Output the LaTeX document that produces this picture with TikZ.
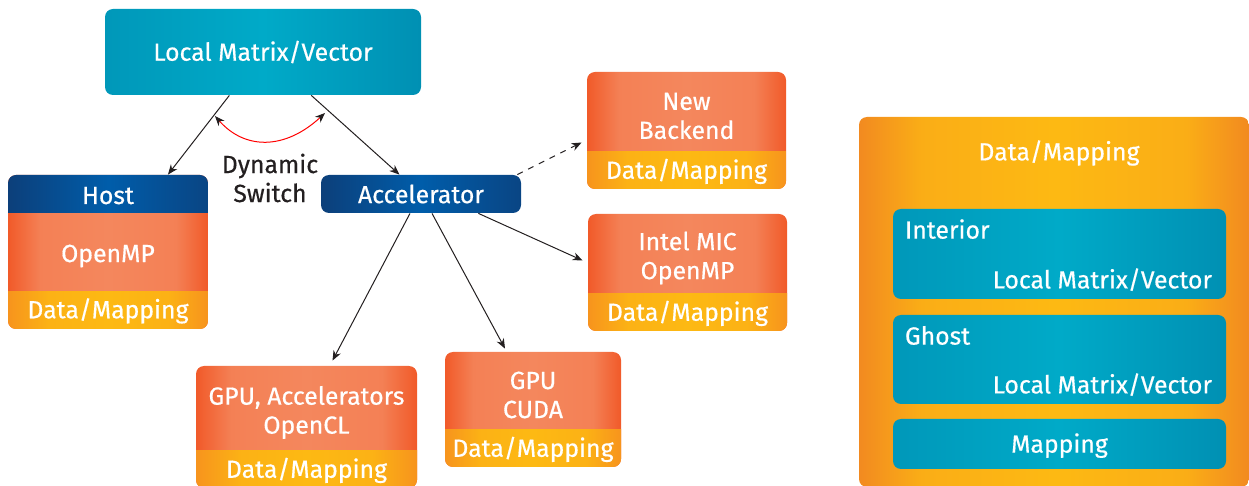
\documentclass[tikz,border=0pt]{standalone}
\usepackage{fontspec}
\setmainfont{Fira Sans}[UprightFeatures={FakeBold=0.5}]
\usepackage{xcolor}
\usetikzlibrary{arrows.meta,positioning}

\definecolor{tealmid}{HTML}{00AAC8}
\definecolor{tealedge}{HTML}{0090B3}
\definecolor{bluemid}{HTML}{005DAA}
\definecolor{blueedge}{HTML}{0C3F7A}
\definecolor{orangemid}{HTML}{F4875D}
\definecolor{orangeedge}{HTML}{F15A29}
\definecolor{yellowmid}{HTML}{FDB913}
\definecolor{yellowedge}{HTML}{F7941D}
\definecolor{bigedge}{HTML}{F28A20}
\definecolor{textdark}{HTML}{231F20}

\pgfdeclarehorizontalshading{orangeshade}{100bp}{color(0bp)=(orangeedge); color(25bp)=(orangeedge);
  color(33bp)=(orangemid!85!orangeedge); color(50bp)=(orangemid); color(67bp)=(orangemid!85!orangeedge);
  color(75bp)=(orangeedge); color(100bp)=(orangeedge)}
\pgfdeclarehorizontalshading{yellowshade}{100bp}{color(0bp)=(yellowedge); color(25bp)=(yellowedge);
  color(35bp)=(yellowmid!80!yellowedge); color(50bp)=(yellowmid); color(65bp)=(yellowmid!80!yellowedge);
  color(75bp)=(yellowedge); color(100bp)=(yellowedge)}
\pgfdeclarehorizontalshading{bigshade}{100bp}{color(0bp)=(bigedge); color(25bp)=(bigedge);
  color(33bp)=(yellowmid!75!bigedge); color(50bp)=(yellowmid); color(67bp)=(yellowmid!75!bigedge);
  color(75bp)=(bigedge); color(100bp)=(bigedge)}

\begin{document}
\begin{tikzpicture}[
  x=0.5pt, y=-0.5pt,
  font=\fontsize{12.4}{14.5}\selectfont,
  every node/.style={inner sep=0pt, align=center},
  whitetext/.style={text=white},
  tealbox/.style={rounded corners=4pt, left color=tealedge!70!tealmid, right color=tealedge, middle color=tealmid, text=white},
  bluebox/.style={rounded corners=4pt, left color=blueedge, right color=blueedge!80!bluemid, middle color=bluemid, text=white},
  backend/.style={rounded corners=4pt, shading=orangeshade,
    path picture={\shade[sharp corners, shading=yellowshade]
      (path picture bounding box.south west) rectangle ([yshift=#1]path picture bounding box.south east);}},
  hostbox/.style={rounded corners=4pt, shading=orangeshade,
    path picture={\shade[sharp corners, shading=yellowshade]
      (path picture bounding box.south west) rectangle ([yshift=18.5pt]path picture bounding box.south east);
      \shade[sharp corners, left color=blueedge, right color=blueedge!80!bluemid, middle color=bluemid]
      (path picture bounding box.north west) rectangle ([yshift=-19pt]path picture bounding box.north east);}},
  dmbox/.style={rounded corners=4pt, shading=bigshade},
  arrow/.style={-{Stealth[length=5pt,width=4pt]}, line width=0.5pt, draw=textdark}
]
\useasboundingbox (0,0) rectangle (1249,486);

% local matrix and the two targets
\node[tealbox, minimum width=158pt, minimum height=43pt] (lmv) at (263,52) {Local Matrix/Vector};

\node[hostbox, minimum width=100pt, minimum height=77pt] (host) at (108,252) {};
\node[whitetext] (hostname) at ([yshift=-10.5pt]host.north) {Host};
\node[whitetext] (hostomp) at ([yshift=-2pt]host.center) {OpenMP};
\node[whitetext] (hostdm) at ([yshift=9.25pt]host.south) {Data/Mapping};

\node[bluebox, minimum width=100pt, minimum height=19pt] (acc) at (421,194) {Accelerator};

\node[text=textdark] (switch) at (270,178) {Dynamic\\Switch};

% backends
\node[backend=18.5pt, minimum width=99.5pt, minimum height=58.5pt] (newbe) at (686.5,130.5) {};
\node[whitetext] (newbename) at ([yshift=7.25pt]newbe.center) {New\\Backend};
\node[whitetext] (newbedm) at ([yshift=9pt]newbe.south) {Data/Mapping};

\node[backend=18.5pt, minimum width=99.5pt, minimum height=58.5pt] (mic) at (687.5,272.5) {};
\node[whitetext] (micname) at ([yshift=7.25pt]mic.center) {Intel MIC\\OpenMP};
\node[whitetext] (micdm) at ([yshift=9pt]mic.south) {Data/Mapping};

\node[backend=18.5pt, minimum width=110.5pt, minimum height=61pt] (ocl) at (306.5,427) {};
\node[whitetext] (oclname) at ([yshift=7.25pt]ocl.center) {GPU, Accelerators\\OpenCL};
\node[whitetext] (ocldm) at ([yshift=9pt]ocl.south) {Data/Mapping};

\node[backend=18.5pt, minimum width=88pt, minimum height=57.5pt] (cuda) at (533,409.5) {};
\node[whitetext] (cudaname) at ([yshift=7.25pt]cuda.center) {GPU\\CUDA};
\node[whitetext] (cudadm) at ([yshift=9pt]cuda.south) {Data/Mapping};

% data layout
\node[dmbox, minimum width=195pt, minimum height=185pt] (dm) at (1054,302) {};
\node[whitetext] (dmtitle) at (1059,153) {Data/Mapping};
\node[tealbox, minimum width=166.5pt, minimum height=45pt] (interior) at (1059.5,254) {};
\node[whitetext, anchor=base west] (interiorname) at ([shift={(6pt,-15pt)}]interior.north west) {Interior};
\node[whitetext, anchor=base east] (interiorlmv) at ([shift={(-7pt,5.5pt)}]interior.south east) {Local Matrix/Vector};
\node[tealbox, minimum width=166.5pt, minimum height=44.5pt] (ghost) at (1059.5,359.5) {};
\node[whitetext, anchor=base west] (ghostname) at ([shift={(6pt,-15pt)}]ghost.north west) {Ghost};
\node[whitetext, anchor=base east] (ghostlmv) at ([shift={(-7pt,5.5pt)}]ghost.south east) {Local Matrix/Vector};
\node[tealbox, minimum width=166.5pt, minimum height=25pt] (mapping) at (1059.5,444) {};
\node[whitetext] (mappingname) at ([yshift=-0.8pt]mapping.center) {Mapping};

% connectors
\draw[arrow] (lmv) -- (host);
\draw[arrow] (lmv) -- (acc);
\draw[arrow, dashed] ([xshift=-2pt]acc.north east) -- ([shift={(-2.5pt,-6pt)}]newbe.west);
\draw[arrow] ([xshift=-21.5pt]acc.south east) -- ([shift={(-2.5pt,6pt)}]mic.west);
\draw[arrow] ([xshift=-5.5pt]acc.south) -- ([shift={(13pt,2.5pt)}]ocl.north);
\draw[arrow] ([xshift=5.5pt]acc.south) -- ([shift={(-14pt,1.5pt)}]cuda.north);

\coordinate (swl) at (215,116);
\coordinate (swr) at (325,113);
\draw[red, line width=0.5pt, {Stealth[length=5pt,width=4pt,color=textdark]}-{Stealth[length=5pt,width=4pt,color=textdark]}]
  (swl) .. controls (245,150) and (285,150) .. (swr);

\end{tikzpicture}
\end{document}
